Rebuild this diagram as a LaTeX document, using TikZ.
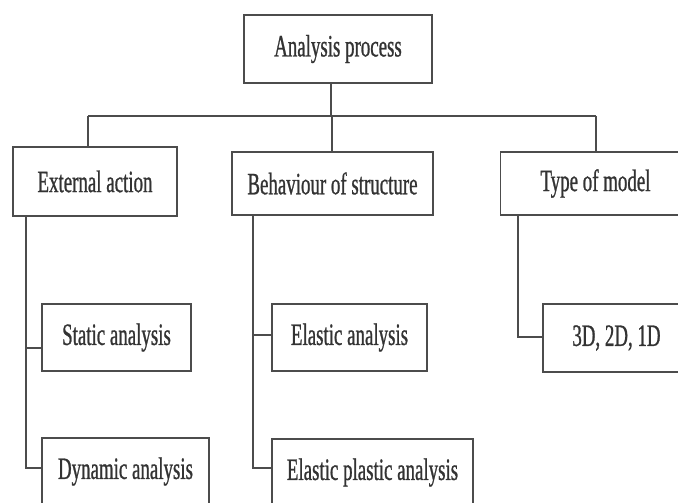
\documentclass[tikz,border=0pt]{standalone}
\usepackage{fontspec}
\setmainfont[FakeStretch=0.61,FakeBold=0.8]{Liberation Serif}
\begin{document}
\begin{tikzpicture}[x=1pt,y=-1pt,
  box/.style={draw=black!70, line width=1.4pt, fill=white, inner sep=0pt,
    font=\fontsize{31}{33}\selectfont, text=black!80},
  link/.style={draw=black!70, line width=1.3pt}]
\useasboundingbox (0,0) rectangle (678,503);
\clip (0,0) rectangle (678,503);
\fill[white] (0,0) rectangle (678,503);
% boxes
\node[box, minimum width=188pt, minimum height=68pt] (top) at (338,49) {Analysis process};
\node[box, minimum width=164pt, minimum height=69pt] (ext) at (95,181.5) {External action};
\node[box, minimum width=201pt, minimum height=63pt] (beh) at (332.5,183.5) {Behaviour of structure};
\node[box, minimum width=190pt, minimum height=63pt] (typ) at (595.5,183.5) {Type of model};
\node[box, minimum width=149pt, minimum height=67pt] (sta) at (116.5,337.5) {Static analysis};
\node[box, minimum width=167pt, minimum height=67pt] (dyn) at (125.5,471.5) {Dynamic analysis};
\node[box, minimum width=155pt, minimum height=67pt] (ela) at (349.5,337.5) {Elastic analysis};
\node[box, minimum width=201pt, minimum height=67pt] (epl) at (372.5,472.5) {Elastic plastic analysis};
\node[box, minimum width=147pt, minimum height=68pt] (dim) at (616.5,338) {3D, 2D, 1D};
% bus
\coordinate (bus) at (331,116);
\coordinate (busL) at (88,116);
\coordinate (busM) at (332,116);
\coordinate (busR) at (596,116);
\draw[link] (top.south -| bus) -- (bus);
\draw[link] (busL) -- (busR);
\draw[link] (busL) -- (busL |- ext.north);
\draw[link] (busM) -- (busM |- beh.north);
\draw[link] (busR) -- (busR |- typ.north);
% spines
\coordinate (s1) at (26,0);
\coordinate (s2) at (253,0);
\coordinate (s3) at (518,0);
\draw[link] (s1 |- ext.south) |- ([yshift=3.5pt]dyn.west);
\draw[link] (s1 |- 0,348) -- ([yshift=-10.5pt]sta.west);
\draw[link] (s2 |- beh.south) |- ([yshift=4.5pt]epl.west);
\draw[link] (s2 |- 0,335) -- ([yshift=2.5pt]ela.west);
\draw[link] (s3 |- typ.south) |- ([yshift=1pt]dim.west);
\end{tikzpicture}
\end{document}
